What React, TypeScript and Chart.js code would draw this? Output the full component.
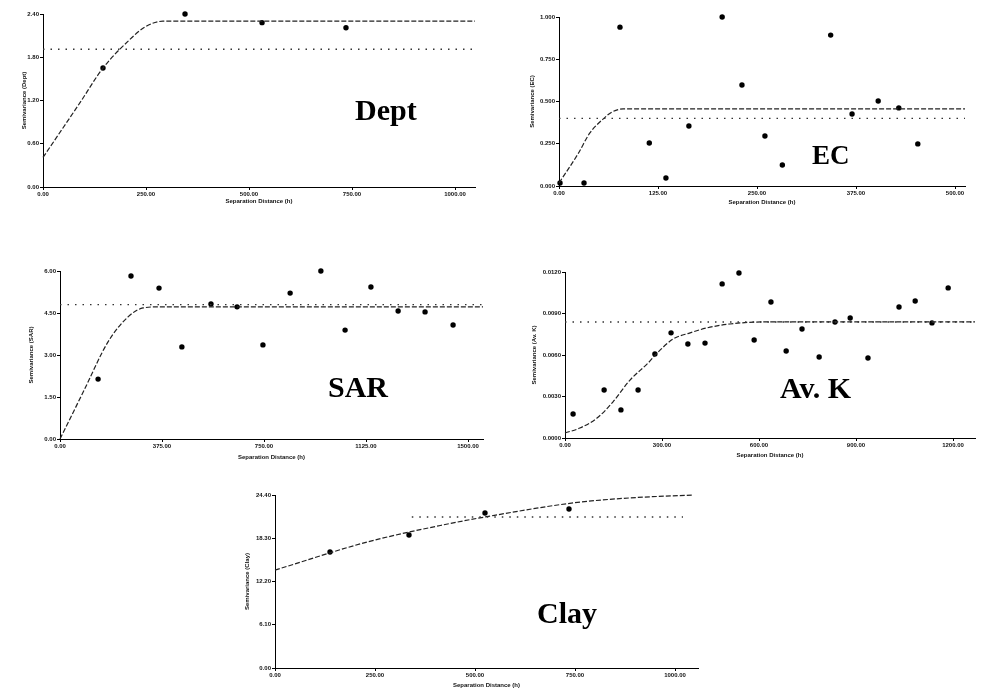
import React, { useEffect, useRef } from "react";
import { Chart, registerables } from "chart.js";

Chart.register(...registerables);

// ---------------- DATA ----------------
// Dept
const deptLagX = [145.6, 344.7, 531.6, 735.4];
const deptGamma = [1.65, 2.4, 2.28, 2.21];
const deptModelX = [0, 89.8, 145.6, 206, 247.6, 291, 1048.5];
const deptModelY = [0.41, 1.17, 1.65, 2.02, 2.22, 2.3, 2.3];
const deptVarX = [0, 1048.5];
const deptVariance = 1.91;
const deptXTicks = [0, 250, 500, 750, 1000];
const deptYTicks = [0, 0.6, 1.2, 1.8, 2.4];

// EC
const ecLagX = [1.3, 31.6, 77, 114, 135, 164, 206, 231, 260, 282, 343, 370, 403, 429, 453];
const ecGamma = [0.018, 0.018, 0.94, 0.254, 0.047, 0.355, 1.0, 0.598, 0.296, 0.124, 0.893, 0.426, 0.503, 0.462, 0.249];
const ecModelX = [0, 24, 39, 55.6, 67, 81, 512.6];
const ecModelY = [0.018, 0.19, 0.314, 0.396, 0.438, 0.456, 0.456];
const ecVarX = [0, 512.6];
const ecVariance = 0.4;
const ecXTicks = [0, 125, 250, 375, 500];
const ecYTicks = [0, 0.25, 0.5, 0.75, 1.0];

// SAR
const sarLagX = [140, 261, 364, 448, 555, 651, 746, 846, 959, 1048, 1143, 1243, 1342, 1445];
const sarGamma = [2.14, 5.82, 5.39, 3.29, 4.82, 4.72, 3.36, 5.21, 6.0, 3.89, 5.43, 4.57, 4.54, 4.07];
const sarModelX = [0, 88, 176, 250, 305, 368, 1555];
const sarModelY = [0, 1.73, 3.46, 4.36, 4.68, 4.72, 4.72];
const sarVarX = [0, 1555];
const sarVariance = 4.8;
const sarXTicks = [0, 375, 750, 1125, 1500];
const sarYTicks = [0, 1.5, 3.0, 4.5, 6.0];

// Av. K
const kLagX = [25, 121, 173, 226, 278, 328, 380, 433, 486, 538, 585, 637, 684, 733, 786, 835, 882, 937, 1033, 1083, 1135, 1185];
const kGamma = [0.00174, 0.00347, 0.00203, 0.00347, 0.00607, 0.0076, 0.00679, 0.00686, 0.01114, 0.01193, 0.00708, 0.00983, 0.00629, 0.00788, 0.00586, 0.00839, 0.00868, 0.00578, 0.00947, 0.0099, 0.00832, 0.01085];
const kModelX = [0, 46, 99, 148, 201, 257, 285, 334, 387, 439, 510, 612, 1268];
const kModelY = [0.00036, 0.00072, 0.00144, 0.0026, 0.00419, 0.00542, 0.00614, 0.00715, 0.0076, 0.00796, 0.00824, 0.00839, 0.00839];
const kVarX = [0, 1268];
const kVariance = 0.00839;
const kXTicks = [0, 300, 600, 900, 1200];
const kYTicks = [0, 0.003, 0.006, 0.009, 0.012];

// Clay
const clayLagX = [137.5, 335, 525, 735];
const clayGamma = [16.37, 18.76, 21.86, 22.42];
const clayModelX = [0, 230, 420, 525, 745, 887.5, 1045];
const clayModelY = [13.81, 17.76, 20.18, 21.3, 23.28, 23.99, 24.4];
const clayVarX = [342, 1020];
const clayVariance = 21.3;
const clayXTicks = [0, 250, 500, 750, 1000];
const clayYTicks = [0, 6.1, 12.2, 18.3, 24.4];

// ---------------- PANELS ----------------
type PanelCfg = {
  name: string;
  yTitle: string;
  lagX: number[];
  gamma: number[];
  modelX: number[];
  modelY: number[];
  varX: number[];
  variance: number;
  xTicks: number[];
  yTicks: number[];
  yDec: number;
  xMax: number;
  area: [number, number, number, number];
  yW: number;
  xH: number;
  label: { left: number; top: number; size: number };
};

const panels: PanelCfg[] = [
  {
    name: "Dept", yTitle: "Semivariance (Dept)",
    lagX: deptLagX, gamma: deptGamma, modelX: deptModelX, modelY: deptModelY,
    varX: deptVarX, variance: deptVariance, xTicks: deptXTicks, yTicks: deptYTicks, yDec: 2,
    xMax: 1048.5, area: [43, 14, 475, 187], yW: 22, xH: 18,
    label: { left: 355, top: 95, size: 30 },
  },
  {
    name: "EC", yTitle: "Semivariance (EC)",
    lagX: ecLagX, gamma: ecGamma, modelX: ecModelX, modelY: ecModelY,
    varX: ecVarX, variance: ecVariance, xTicks: ecXTicks, yTicks: ecYTicks, yDec: 3,
    xMax: 512.6, area: [559, 17, 965, 186], yW: 30, xH: 20,
    label: { left: 812, top: 142, size: 27 },
  },
  {
    name: "SAR", yTitle: "Semivariance (SAR)",
    lagX: sarLagX, gamma: sarGamma, modelX: sarModelX, modelY: sarModelY,
    varX: sarVarX, variance: sarVariance, xTicks: sarXTicks, yTicks: sarYTicks, yDec: 2,
    xMax: 1555, area: [60, 271, 483, 439], yW: 32, xH: 22,
    label: { left: 328, top: 372, size: 30 },
  },
  {
    name: "Av. K", yTitle: "Semivariance (Av. K)",
    lagX: kLagX, gamma: kGamma, modelX: kModelX, modelY: kModelY,
    varX: kVarX, variance: kVariance, xTicks: kXTicks, yTicks: kYTicks, yDec: 4,
    xMax: 1268, area: [565, 272, 975, 438], yW: 34, xH: 21,
    label: { left: 780, top: 373, size: 30 },
  },
  {
    name: "Clay", yTitle: "Semivariance (Clay)",
    lagX: clayLagX, gamma: clayGamma, modelX: clayModelX, modelY: clayModelY,
    varX: clayVarX, variance: clayVariance, xTicks: clayXTicks, yTicks: clayYTicks, yDec: 2,
    xMax: 1057.5, area: [275, 495, 698, 668], yW: 31, xH: 21,
    label: { left: 537, top: 598, size: 30 },
  },
];

const PAD_T = 8;
const PAD_R = 16;
const tickFont = { family: "'Liberation Sans', Arial, sans-serif", size: 6, weight: "bold" as const };

function Panel({ cfg }: { cfg: PanelCfg }) {
  const ref = useRef<HTMLCanvasElement | null>(null);
  const [l, t, r, b] = cfg.area;
  const width = cfg.yW + (r - l) + PAD_R;
  const height = PAD_T + (b - t) + cfg.xH;

  useEffect(() => {
    if (!ref.current) return;
    const chart = new Chart(ref.current, {
      type: "scatter",
      data: {
        datasets: [
          {
            data: cfg.varX.map((x) => ({ x, y: cfg.variance })),
            showLine: true,
            pointRadius: 0,
            borderColor: "#333",
            borderWidth: 1.4,
            borderDash: [1.5, 6],
            clip: false,
          },
          {
            data: cfg.modelX.map((x, i) => ({ x, y: cfg.modelY[i] })),
            showLine: true,
            pointRadius: 0,
            borderColor: "#222",
            borderWidth: 1.2,
            borderDash: [5, 2],
            cubicInterpolationMode: "monotone",
            clip: false,
          },
          {
            data: cfg.lagX.map((x, i) => ({ x, y: cfg.gamma[i] })),
            showLine: false,
            pointRadius: 2.7,
            pointHoverRadius: 2.7,
            backgroundColor: "#000",
            borderColor: "#000",
            borderWidth: 0,
            clip: false,
          },
        ] as any,
      },
      options: {
        animation: false,
        responsive: false,
        events: [],
        layout: { padding: { top: PAD_T, right: PAD_R, left: 0, bottom: 0 } },
        plugins: { legend: { display: false }, tooltip: { enabled: false } },
        scales: {
          x: {
            type: "linear",
            min: 0,
            max: cfg.xMax,
            afterBuildTicks: (s: any) => {
              s.ticks = cfg.xTicks.map((v) => ({ value: v }));
            },
            afterFit: (s: any) => {
              s.height = cfg.xH;
            },
            ticks: {
              font: tickFont,
              color: "#111",
              padding: 1,
              maxRotation: 0,
              autoSkip: false,
              callback: (v: any) => Number(v).toFixed(2),
            },
            grid: { display: true, drawOnChartArea: false, drawTicks: true, tickLength: 3, color: "#000" },
            border: { display: true, color: "#000", width: 1 },
            title: {
              display: true,
              text: "Separation Distance (h)",
              font: tickFont,
              color: "#111",
              padding: 0,
            },
          },
          y: {
            type: "linear",
            min: 0,
            max: cfg.yTicks[cfg.yTicks.length - 1],
            afterBuildTicks: (s: any) => {
              s.ticks = cfg.yTicks.map((v) => ({ value: v }));
            },
            afterFit: (s: any) => {
              s.width = cfg.yW;
            },
            ticks: {
              font: tickFont,
              color: "#111",
              padding: 1,
              autoSkip: false,
              callback: (v: any) => Number(v).toFixed(cfg.yDec),
            },
            grid: { display: true, drawOnChartArea: false, drawTicks: true, tickLength: 3, color: "#000" },
            border: { display: true, color: "#000", width: 1 },
            title: {
              display: true,
              text: cfg.yTitle,
              font: tickFont,
              color: "#111",
              padding: 0,
            },
          },
        },
      } as any,
    });
    return () => chart.destroy();
  }, [cfg]);

  return (
    <>
      <canvas
        ref={ref}
        width={width}
        height={height}
        style={{
          position: "absolute",
          left: l - cfg.yW,
          top: t - PAD_T,
          width,
          height,
        }}
      />
      <div
        style={{
          position: "absolute",
          left: cfg.label.left,
          top: cfg.label.top,
          fontFamily: "'Liberation Serif', 'DejaVu Serif', serif",
          fontWeight: "bold",
          fontSize: cfg.label.size,
          lineHeight: `${cfg.label.size}px`,
          color: "#000",
          whiteSpace: "nowrap",
        }}
      >
        {cfg.name}
      </div>
    </>
  );
}

export default function App() {
  return (
    <div
      style={{
        position: "absolute",
        left: 0,
        top: 0,
        width: 981,
        height: 696,
        background: "#fff",
        overflow: "hidden",
      }}
    >
      {panels.map((p) => (
        <Panel key={p.name} cfg={p} />
      ))}
    </div>
  );
}
